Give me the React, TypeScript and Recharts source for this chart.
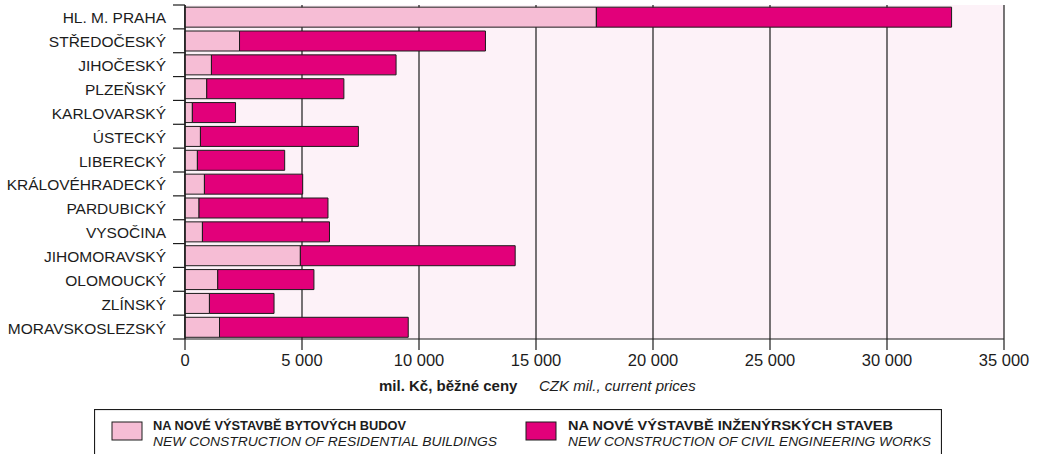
import React from 'react';
import { BarChart, Bar, XAxis, YAxis, CartesianGrid, Legend } from 'recharts';

const regions = [
  'HL. M. PRAHA',
  'STŘEDOČESKÝ',
  'JIHOČESKÝ',
  'PLZEŇSKÝ',
  'KARLOVARSKÝ',
  'ÚSTECKÝ',
  'LIBERECKÝ',
  'KRÁLOVÉHRADECKÝ',
  'PARDUBICKÝ',
  'VYSOČINA',
  'JIHOMORAVSKÝ',
  'OLOMOUCKÝ',
  'ZLÍNSKÝ',
  'MORAVSKOSLEZSKÝ',
];
const residential = [17580, 2330, 1130, 930, 315, 660, 530, 830, 600, 745, 4930, 1400, 1045, 1475];
const civil = [15180, 10510, 7890, 5860, 1845, 6750, 3730, 4200, 5510, 5430, 9180, 4110, 2760, 8065];
const xTicks = [0, 5000, 10000, 15000, 20000, 25000, 30000, 35000];
const seriesNamesCz = ['NA NOVÉ VÝSTAVBĚ BYTOVÝCH BUDOV', 'NA NOVÉ VÝSTAVBĚ INŽENÝRSKÝCH STAVEB'];
const seriesNamesEn = ['NEW CONSTRUCTION OF RESIDENTIAL BUILDINGS', 'NEW CONSTRUCTION OF CIVIL ENGINEERING WORKS'];
const axisTitleCz = 'mil. Kč, běžné ceny';
const axisTitleEn = 'CZK mil., current prices';

const data = regions.map((r, i) => ({ region: r, residential: residential[i], civil: civil[i] }));

const FONT = '"Liberation Sans", Arial, Helvetica, sans-serif';
const INK = '#1c1c1c';
const LIGHT = '#F6BDD5';
const MAGENTA = '#E2007A';
const PLOT_BG = '#FDF2F8';
const TICK_SIZE = 12;
const TICK_MARGIN = 7;

const fmt = (v: number) => (v === 0 ? '0' : String(v).replace(/\B(?=(\d{3})+(?!\d))/g, '\u00a0'));

const YTick = (props: any) => {
  const { x, y, payload, index, visibleTicksCount } = props;
  const half = payload && payload.offset ? payload.offset : 11.93;
  const axisX = x + TICK_SIZE + TICK_MARGIN;
  return (
    <g>
      <text x={x} y={y + 6.5} textAnchor="end" fontSize={15.5} fontFamily={FONT} fill={INK}>
        {payload.value}
      </text>
      <line x1={axisX - TICK_SIZE} x2={axisX} y1={y - half} y2={y - half} stroke={INK} strokeWidth={1.2} />
      {index === visibleTicksCount - 1 ? (
        <line x1={axisX - TICK_SIZE} x2={axisX} y1={y + half} y2={y + half} stroke={INK} strokeWidth={1.2} />
      ) : null}
    </g>
  );
};

const AxisTitle = (props: any) => {
  const vb = props.viewBox || { x: 185, y: 339 };
  return (
    <g fontFamily={FONT} fill={INK}>
      <text x={vb.x + 194} y={vb.y + 52} fontSize={15} fontWeight="bold" fill={INK}>
        {axisTitleCz}
      </text>
      <text x={vb.x + 354} y={vb.y + 52} fontSize={15} fontStyle="italic" fill={INK}>
        {axisTitleEn}
      </text>
    </g>
  );
};

const LegendBox = (props: any) => {
  const payload = props.payload || [];
  const items = [
    { sx: 18, tx: 59, w1: 253, w2: 344 },
    { sx: 432, tx: 474, w1: 325, w2: 363 },
  ];
  return (
    <svg width={848} height={60} style={{ display: 'block' }}>
      <rect x={0.5} y={0.5} width={847} height={90} fill="#ffffff" stroke={INK} strokeWidth={1.2} />
      {payload.map((p: any, i: number) => {
        const it = items[i] || items[0];
        return (
          <g key={i} fontFamily={FONT}>
            <rect x={it.sx} y={13} width={30} height={18} fill={p.color} stroke={INK} strokeWidth={1} />
            <text x={it.tx} y={20.5} fontSize={13} fontWeight="bold" fill={INK} textLength={it.w1} lengthAdjust="spacingAndGlyphs">
              {p.value}
            </text>
            <text x={it.tx} y={36.5} fontSize={13} fontStyle="italic" fill={INK} textLength={it.w2} lengthAdjust="spacingAndGlyphs">
              {seriesNamesEn[i]}
            </text>
          </g>
        );
      })}
    </svg>
  );
};

export default function App() {
  return (
    <div
      style={{
        position: 'absolute',
        left: 0,
        top: 0,
        width: 1039,
        height: 454,
        overflow: 'hidden',
        background: '#ffffff',
        fontFamily: FONT,
      }}
    >
      <BarChart
        width={1039}
        height={454}
        data={data}
        layout="vertical"
        margin={{ top: 5, right: 35, left: 0, bottom: 55 }}
        barCategoryGap="9%"
      >
        <CartesianGrid horizontal={false} vertical={true} fill={PLOT_BG} fillOpacity={1} stroke={INK} strokeWidth={1.2} />
        <XAxis
          type="number"
          domain={[0, 35000]}
          ticks={xTicks}
          tickFormatter={fmt}
          interval={0}
          tickSize={11}
          tickMargin={4}
          height={60}
          axisLine={{ stroke: INK, strokeWidth: 1.2 }}
          tickLine={{ stroke: INK, strokeWidth: 1.2 }}
          tick={{ fontSize: 16.5, fill: INK, fontFamily: FONT }}
          label={<AxisTitle />}
        />
        <XAxis
          xAxisId="top"
          orientation="top"
          type="number"
          domain={[0, 35000]}
          tick={false}
          tickLine={false}
          height={0}
          axisLine={{ stroke: INK, strokeWidth: 1.2 }}
        />
        <YAxis
          type="category"
          dataKey="region"
          width={185}
          interval={0}
          tickLine={false}
          tickSize={TICK_SIZE}
          tickMargin={TICK_MARGIN}
          axisLine={{ stroke: INK, strokeWidth: 1.4 }}
          tick={<YTick />}
        />
        <Legend
          layout="horizontal"
          verticalAlign="middle"
          align="center"
          wrapperStyle={{ top: 409, left: 94, width: 848, height: 60 }}
          content={<LegendBox />}
        />
        <Bar
          dataKey="residential"
          name={seriesNamesCz[0]}
          stackId="a"
          fill={LIGHT}
          stroke={INK}
          strokeWidth={1}
          isAnimationActive={false}
        />
        <Bar
          dataKey="civil"
          name={seriesNamesCz[1]}
          stackId="a"
          fill={MAGENTA}
          stroke={INK}
          strokeWidth={1}
          isAnimationActive={false}
        />
      </BarChart>
    </div>
  );
}
